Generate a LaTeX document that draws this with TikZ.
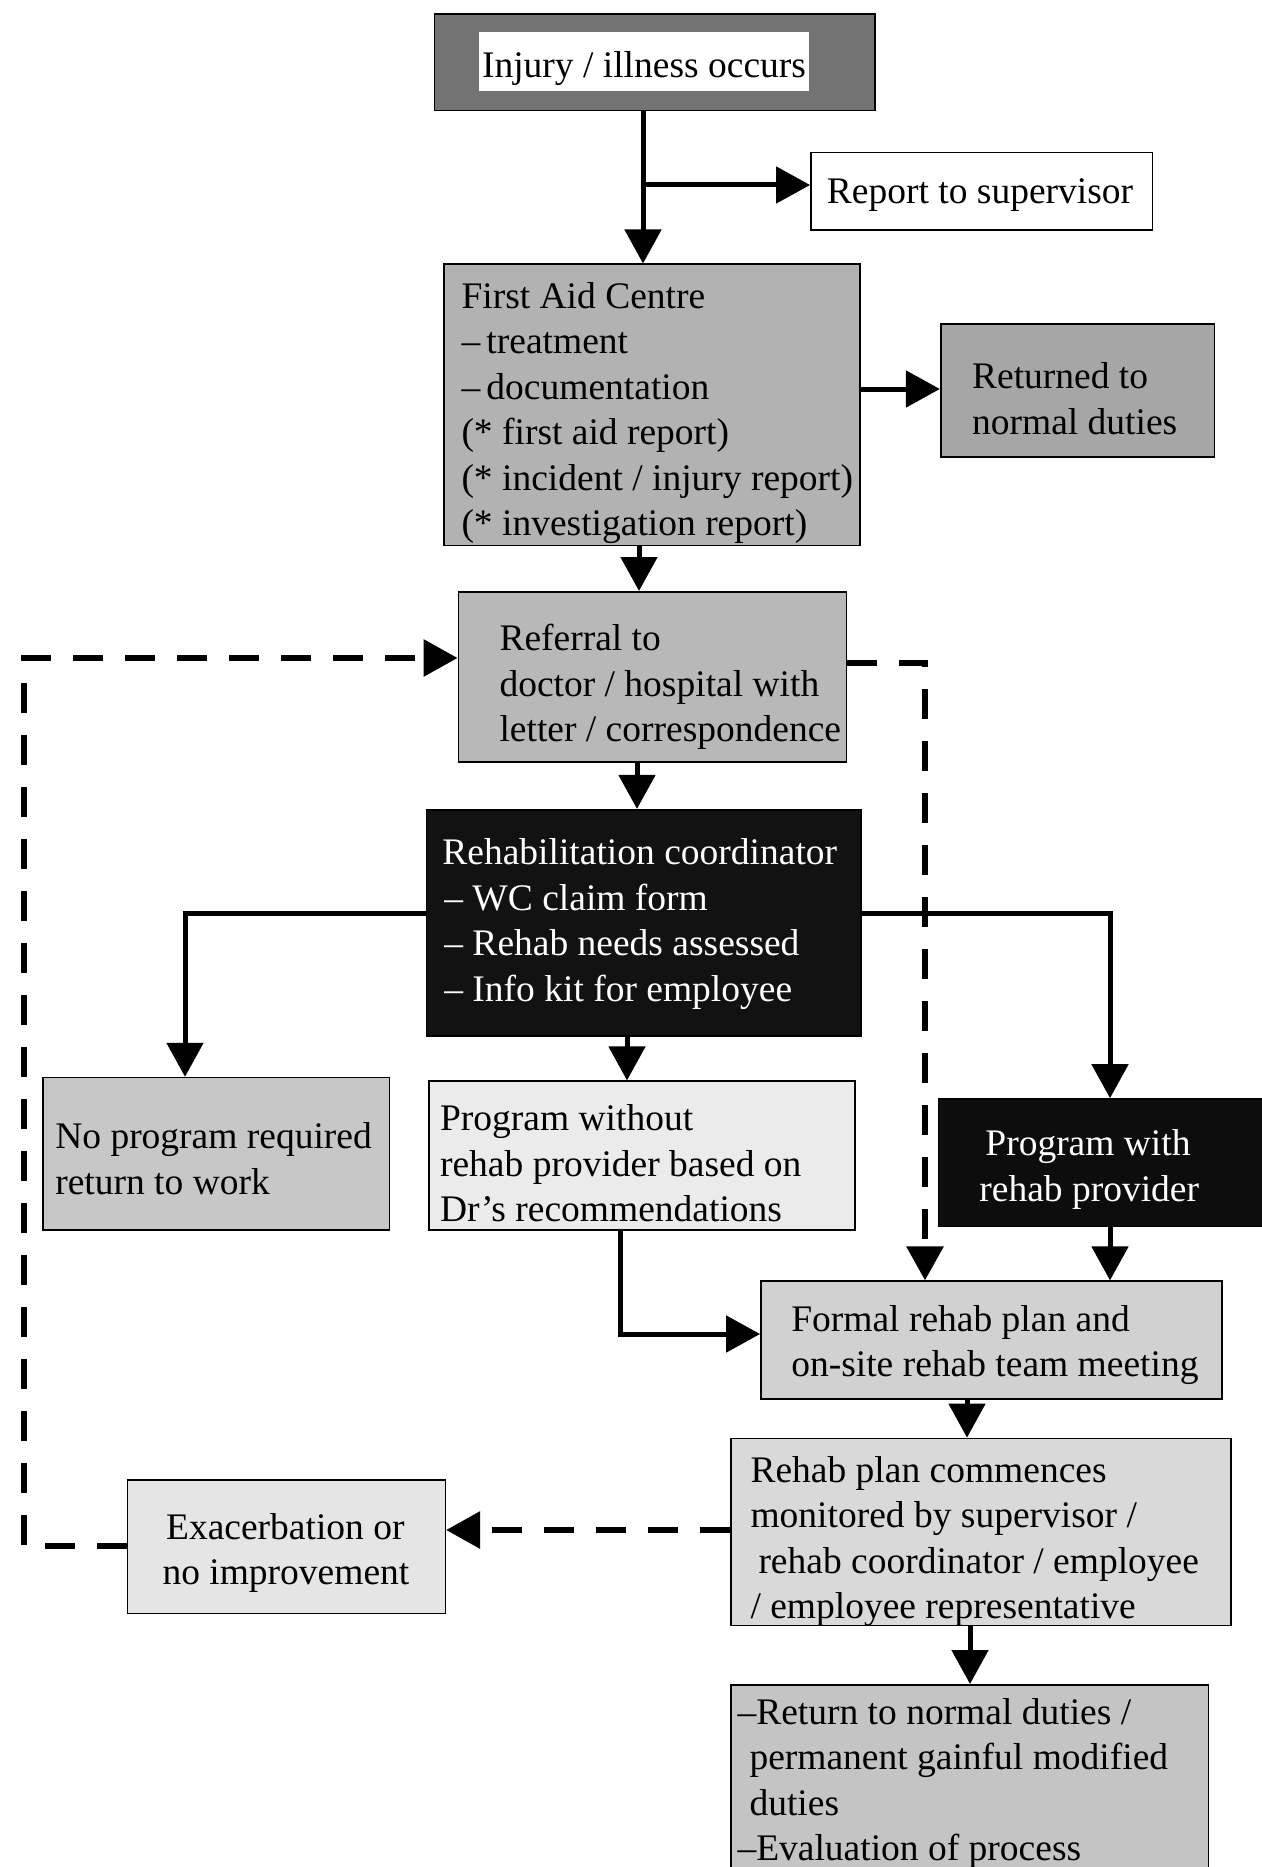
\documentclass[tikz,border=0pt]{standalone}
\usepackage{fontspec}
\setmainfont{Liberation Serif}
\usetikzlibrary{arrows.meta,calc}
\newcommand\mkbox[6]{\node[boxs,#6,minimum width={#4-#2},minimum height={#5-#3}] (#1) at ({(#2+#4)/2},{(#3+#5)/2}) {};}
\tikzset{
  boxs/.style={draw=black,line width=1.6pt,rectangle,inner sep=0pt},
  txt/.style={font=\fontsize{37.5}{45.5}\selectfont,align=left,inner sep=0pt,anchor=west},
  arr/.style={line width=5pt,-{Triangle[length=34pt,width=36pt]}},
  darr/.style={line width=6pt,dash pattern=on 30pt off 22pt,-{Triangle[length=34pt,width=36pt]}},
}
\begin{document}
\begin{tikzpicture}[x=1pt,y=-1pt]
\fill[white] (0,0) rectangle (1261,1867);
\useasboundingbox (0,0) rectangle (1261,1867);
% boxes
\mkbox{inj}{434.6}{14.3}{875.2}{110.7}{fill=black!55}
\mkbox{rep}{810.9}{152.4}{1152.6}{229.8}{fill=white}
\mkbox{fa}{444.1}{264.3}{859.7}{545.3}{fill=black!30}
\mkbox{ret}{940.7}{323.9}{1214.5}{457.2}{fill=black!35}
\mkbox{refl}{458.4}{591.8}{846.6}{762.0}{fill=black!28}
\mkbox{reh}{426.3}{809.7}{860.9}{1035.9}{fill=black!93}
\mkbox{nop}{42.9}{1077.6}{389.4}{1230.0}{fill=black!22}
\mkbox{pwo}{428.7}{1081.2}{854.9}{1230.0}{fill=black!8}
\mkbox{pw}{938.3}{1099.0}{1275}{1226.4}{fill=black!95}
\mkbox{frm}{760.9}{1281.2}{1221.7}{1399.1}{fill=black!18}
\mkbox{com}{731.1}{1438.4}{1231.2}{1625.3}{fill=black!15}
\mkbox{exa}{127.4}{1480.1}{445.3}{1613.4}{fill=black!10}
\mkbox{fin}{731.1}{1684.8}{1208.6}{1900}{fill=black!23}
% texts
\node[font=\fontsize{37.5}{45.5}\selectfont,anchor=base,fill=white,inner xsep=3pt,inner ysep=0pt,text height=46pt,text depth=13pt] (tinj) at (644,78) {Injury / illness occurs};
\node[txt] (trep) at ($(rep.west)+(16.6,4)$) {Report to supervisor};
\node[txt] (tfa) at ($(fa.west)+(18,8)$) {First Aid Centre\\–\,treatment\\–\,documentation\\(* first aid report)\\(* incident / injury report)\\(* investigation report)};
\node[txt] (tret) at ($(ret.west)+(32,8)$) {Returned to\\normal duties};
\node[txt] (trefl) at ($(refl.west)+(41.7,10)$) {Referral to\\doctor / hospital with\\letter / correspondence};
\node[txt,text=white] (treh) at ($(reh.west)+(16.7,1)$) {Rehabilitation coordinator\\\hspace{2pt}– WC claim form\\\hspace{2pt}– Rehab needs assessed\\\hspace{2pt}– Info kit for employee};
\node[txt] (tnop) at ($(nop.west)+(13,5)$) {No program required\\return to work};
\node[txt] (tpwo) at ($(pwo.west)+(12,8)$) {Program without\\rehab provider based on\\Dr’s recommendations};
\node[txt,text=white] (tpw) at ($(pw.west)+(41.7,7)$) {\hspace{6pt}Program with\\rehab provider};
\node[txt] (tfrm) at ($(frm.west)+(31,5)$) {Formal rehab plan and\\on-site rehab team meeting};
\node[txt] (tcom) at ($(com.west)+(20,9.5)$) {Rehab plan commences\\monitored by supervisor /\\\hspace{8pt}rehab coordinator / employee\\/ employee representative};
\node[txt] (texa) at ($(exa.west)+(35.7,6)$) {\hspace{3.6pt}Exacerbation or\\no improvement};
\node[txt] (tfin) at ($(fin.west)+(7,-9)$) {–Return to normal duties /\\\hspace{12pt}permanent gainful modified\\\hspace{12pt}duties\\–Evaluation of process};
% helper coordinates
\coordinate (cA) at (643,185);
\coordinate (cB) at (0,389);
\coordinate (cC) at (639,0);
\coordinate (cD) at (637,0);
\coordinate (cE) at (185,913);
\coordinate (cF) at (627,0);
\coordinate (cG) at (1110,913);
\coordinate (cH) at (620,1334);
\coordinate (cI) at (967,0);
\coordinate (cJ) at (970,0);
\coordinate (cK) at (0,1530);
\coordinate (cL) at (24,1546);
\coordinate (cM) at (24,658);
\coordinate (cN) at (925,663);
% connectors
\draw[arr] (inj.south -| cA) -- (fa.north -| cA);
\draw[arr] (cA) -- (rep.west |- cA);
\draw[arr] (fa.east |- cB) -- (ret.west |- cB);
\draw[arr] (fa.south -| cC) -- (refl.north -| cC);
\draw[arr] (refl.south -| cD) -- (reh.north -| cD);
\draw[arr] (reh.west |- cE) -| (nop.north -| cE);
\draw[arr] (reh.south -| cF) -- (pwo.north -| cF);
\draw[arr] (reh.east |- cG) -| (pw.north -| cG);
\draw[arr] (pw.south -| cG) -- (frm.north -| cG);
\draw[arr] (pwo.south -| cH) |- (frm.west |- cH);
\draw[arr] (frm.south -| cI) -- (com.north -| cI);
\draw[arr] (com.south -| cJ) -- (fin.north -| cJ);
\draw[darr] (com.west |- cK) -- (exa.east |- cK);
\draw[darr] (exa.west |- cL) -- (cL) -- (cM) -- (refl.west |- cM);
\draw[darr] (refl.east |- cN) -| (frm.north -| cN);
\end{tikzpicture}
\end{document}
